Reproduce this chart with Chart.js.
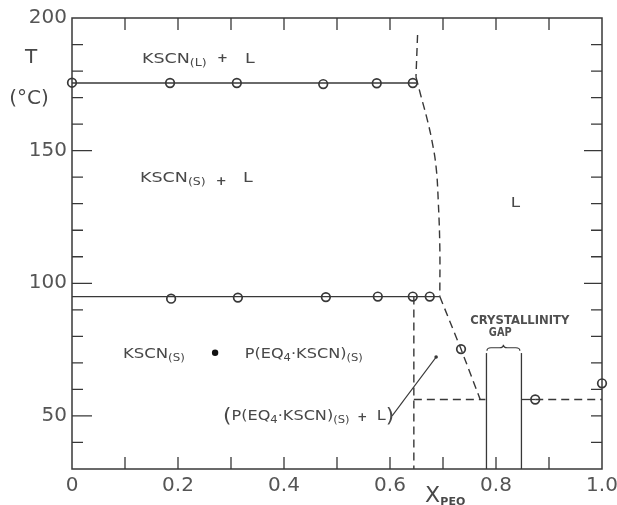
<!DOCTYPE html>
<html><head><meta charset="utf-8">
<script src="https://cdn.jsdelivr.net/npm/chart.js@4/dist/chart.umd.min.js"></script>
<style>html,body{margin:0;padding:0;background:#fff;}canvas{display:block;}</style>
</head><body>
<canvas id="c" width="617" height="505"></canvas>
<script>
// ---- data (x = mole fraction PEO, T in °C) ----
const xTickLabels = ['0', '0.2', '0.4', '0.6', '0.8', '1.0'];
const yTickLabels = ['50', '100', '150', '200'];

const upperX = [0, 0.185, 0.311, 0.474, 0.575, 0.643];
const upperT = [175.6, 175.5, 175.5, 175.1, 175.4, 175.5];
const lowerX = [0.187, 0.313, 0.479, 0.577, 0.643, 0.675];
const lowerT = [94.2, 94.6, 94.8, 95.0, 95.0, 95.0];
const otherX = [0.734, 0.874, 1.0];
const otherT = [75.2, 56.2, 62.3];

const upperLineX = [0, 0.65];
const upperLineT = [175.5, 175.5];
const lowerLineX = [0, 0.694];
const lowerLineT = [95, 95];

// liquidus (dashed): top straight part, curved part, lower straight part
const liqTopX = [0.652, 0.649];
const liqTopT = [193.6, 177.8];
const liqCurveX = [0.649, 0.658, 0.669, 0.679, 0.687, 0.691, 0.694, 0.694];
const liqCurveT = [177.8, 170.9, 162.7, 153.9, 143.8, 131.2, 113.6, 95];
const liqLowX = [0.694, 0.734, 0.770];
const liqLowT = [95, 75.2, 56.3];

const eutecticX = [0.645, 0.780];
const eutecticT = [56.2, 56.2];
const compoundX = [0.645, 0.645];
const compoundT = [95, 30];

const gapLeftX = [0.782, 0.782];
const gapRightX = [0.848, 0.848];
const gapT = [30, 73.7];

const rightSolidX = [0.848, 0.874];
const rightSolidT = [56.2, 56.2];
const rightDashX = [0.874, 1.0];
const rightDashT = [56.2, 56.2];

const leaderX = [0.604, 0.687];
const leaderT = [50, 72.2];

const bulletX = [0.270];
const bulletT = [73.8];

// ---- styles ----
const INK = '#383838';
const TXT = '#484848';
const DASH = [8, 5];

const pts = (xs, ys) => xs.map((x, i) => ({x, y: ys[i]}));
const line = (xs, ys, extra) => Object.assign({
  data: pts(xs, ys), showLine: true, pointRadius: 0, borderColor: INK,
  borderWidth: 1.3, fill: false, tension: 0, clip: false
}, extra || {});
const dashed = {borderDash: DASH, borderWidth: 1.4};
const marks = (xs, ys) => ({
  data: pts(xs, ys), showLine: false, pointRadius: 4.3, pointBorderWidth: 1.7,
  pointBackgroundColor: 'rgba(0,0,0,0)', pointBorderColor: INK, clip: false
});

function rich(ctx, pieces, x, y, size, sx, weight) {
  let cx = x;
  for (const [t, k] of pieces) {
    const fs = k === 1 ? size * 0.72 : k === 2 ? size * 1.35 : size;
    const dy = k === 1 ? size * 0.2 : k === 2 ? size * 0.12 : 0;
    const f = `${weight || 'normal'} ${fs}px "DejaVu Sans"`;
    ctx.save();
    ctx.font = f;
    ctx.translate(cx, y + dy);
    ctx.scale(sx, 1);
    ctx.fillText(t, 0, 0);
    ctx.restore();
    ctx.font = f;
    cx += ctx.measureText(t).width * sx;
  }
}

const decor = {
  id: 'decor',
  afterDraw(chart) {
    const {ctx, chartArea: a, scales: {x, y}} = chart;
    const X = v => x.getPixelForValue(v), Y = v => y.getPixelForValue(v);
    ctx.save();
    // frame
    ctx.strokeStyle = INK; ctx.lineWidth = 1.5;
    ctx.strokeRect(a.left, a.top, a.right - a.left, a.bottom - a.top);
    // inward ticks
    ctx.lineWidth = 1.3;
    ctx.beginPath();
    y.ticks.forEach(t => {
      const v = t.value; if (v <= 30 || v >= 200) return;
      const py = Y(v);
      const lL = v % 50 === 0 ? 20 : 11;
      const lR = (v === 100 || v === 150) ? 18 : 11;
      ctx.moveTo(a.left, py); ctx.lineTo(a.left + lL, py);
      ctx.moveTo(a.right, py); ctx.lineTo(a.right - lR, py);
    });
    x.ticks.forEach(t => {
      const v = t.value; if (v <= 0.001 || v >= 0.999) return;
      const px = X(v);
      ctx.moveTo(px, a.bottom); ctx.lineTo(px, a.bottom - 12);
      ctx.moveTo(px, a.top); ctx.lineTo(px, a.top + 12);
    });
    ctx.stroke();

    // brace over crystallinity gap
    const bx0 = X(0.783), bx1 = X(0.845), bm = (bx0 + bx1) / 2, by = Y(75.7);
    ctx.lineWidth = 1.2;
    ctx.beginPath();
    ctx.moveTo(bx0, by + 3);
    ctx.quadraticCurveTo(bx0, by, bx0 + 4, by);
    ctx.lineTo(bm - 4, by);
    ctx.quadraticCurveTo(bm, by, bm, by - 3);
    ctx.quadraticCurveTo(bm, by, bm + 4, by);
    ctx.lineTo(bx1 - 4, by);
    ctx.quadraticCurveTo(bx1, by, bx1, by + 3);
    ctx.stroke();

    // texts
    ctx.fillStyle = TXT;
    ctx.textBaseline = 'alphabetic';
    ctx.textAlign = 'left';
    rich(ctx, [['KSCN', 0], ['(L)', 1]], X(0.132), Y(183.0), 14, 1.25);
    rich(ctx, [['+', 0]], X(0.2736), Y(183.45), 13, 1, 'bold');
    rich(ctx, [['L', 0]], X(0.3264), Y(183.0), 14, 1.25);

    rich(ctx, [['KSCN', 0], ['(S)', 1]], X(0.1283), Y(138.0), 14, 1.25);
    rich(ctx, [['+', 0]], X(0.271), Y(137.0), 13, 1, 'bold');
    rich(ctx, [['L', 0]], X(0.3226), Y(138.0), 14, 1.25);

    rich(ctx, [['L', 0]], X(0.828), Y(128.6), 14, 1.2);

    rich(ctx, [['KSCN', 0], ['(S)', 1]], X(0.096), Y(71.9), 14, 1.18);
    rich(ctx, [['P(EQ', 0], ['4', 1], ['·KSCN)', 0], ['(S)', 1]], X(0.326), Y(71.9), 14, 1.15);

    rich(ctx, [['(', 2], ['P(EQ', 0], ['4', 1], ['·KSCN)', 0], ['(S)', 1]], X(0.285), Y(48.4), 14, 1.15);
    rich(ctx, [['+', 0]], X(0.538), Y(48.1), 12, 1, 'bold');
    rich(ctx, [['L', 0], [')', 2]], X(0.575), Y(48.4), 14, 1.15);

    ctx.fillStyle = '#505050';
    ctx.save(); ctx.translate(X(0.845), Y(84.7)); ctx.scale(0.93, 1);
    ctx.textAlign = 'center'; ctx.font = 'bold 12.5px "DejaVu Sans"';
    ctx.fillText('CRYSTALLINITY', 0, 0); ctx.restore();
    ctx.save(); ctx.translate(X(0.808), Y(80.2)); ctx.scale(0.85, 1);
    ctx.textAlign = 'center'; ctx.font = 'bold 11.5px "DejaVu Sans"';
    ctx.fillText('GAP', 0, 0); ctx.restore();

    // axis titles
    ctx.fillStyle = TXT;
    ctx.textAlign = 'center';
    ctx.font = '20px "DejaVu Sans"';
    ctx.fillText('T', 31, 63);
    ctx.fillText('(°C)', 29, 104);
    ctx.textAlign = 'left';
    ctx.font = '22px "DejaVu Sans"';
    ctx.fillText('X', X(0.666), 502);
    ctx.font = 'bold 11px "DejaVu Sans"';
    ctx.fillText('PEO', X(0.695), 505);
    ctx.restore();
  }
};

new Chart(document.getElementById('c'), {
  type: 'scatter',
  data: {
    datasets: [
      marks(upperX, upperT),
      marks(lowerX, lowerT),
      marks(otherX, otherT),
      {data: pts(bulletX, bulletT), showLine: false, pointRadius: 3.2, pointBackgroundColor: '#111', pointBorderWidth: 0, clip: false},
      line(upperLineX, upperLineT),
      line(lowerLineX, lowerLineT),
      line(liqTopX, liqTopT, dashed),
      line(liqCurveX, liqCurveT, Object.assign({tension: 0.4}, dashed)),
      line(liqLowX, liqLowT, dashed),
      line(eutecticX, eutecticT, dashed),
      line(compoundX, compoundT, dashed),
      line(gapLeftX, gapT),
      line(gapRightX, gapT),
      line(rightSolidX, rightSolidT),
      line(rightDashX, rightDashT, dashed),
      line(leaderX, leaderT, {borderWidth: 1.1, pointRadius: [0, 1.8], pointBackgroundColor: INK, pointBorderWidth: 0})
    ]
  },
  options: {
    responsive: false,
    animation: false,
    events: [],
    layout: {padding: {top: 18, right: 15, left: 0, bottom: 0}},
    plugins: {legend: {display: false}, tooltip: {enabled: false}},
    scales: {
      x: {
        type: 'linear', min: 0, max: 1,
        grid: {display: false, drawTicks: false}, border: {display: false},
        ticks: {
          stepSize: 0.1, autoSkip: false, maxRotation: 0, padding: 5,
          color: '#555', font: {family: 'DejaVu Sans', size: 20},
          callback: v => { const k = Math.round(v * 10); return k % 2 === 0 ? xTickLabels[k / 2] : ''; }
        },
        afterFit: s => { s.height = 36; s.paddingLeft = 0; s.paddingRight = 0; }
      },
      y: {
        type: 'linear', min: 30, max: 200,
        grid: {display: false, drawTicks: false}, border: {display: false},
        ticks: {
          stepSize: 10, autoSkip: false, padding: 5,
          color: '#555', font: {family: 'DejaVu Sans', size: 20},
          callback: v => (v % 50 === 0 ? yTickLabels[v / 50 - 1] : '')
        },
        afterFit: s => { s.width = 72; s.paddingTop = 0; s.paddingBottom = 0; }
      }
    }
  },
  plugins: [decor]
});
</script>
</body></html>
